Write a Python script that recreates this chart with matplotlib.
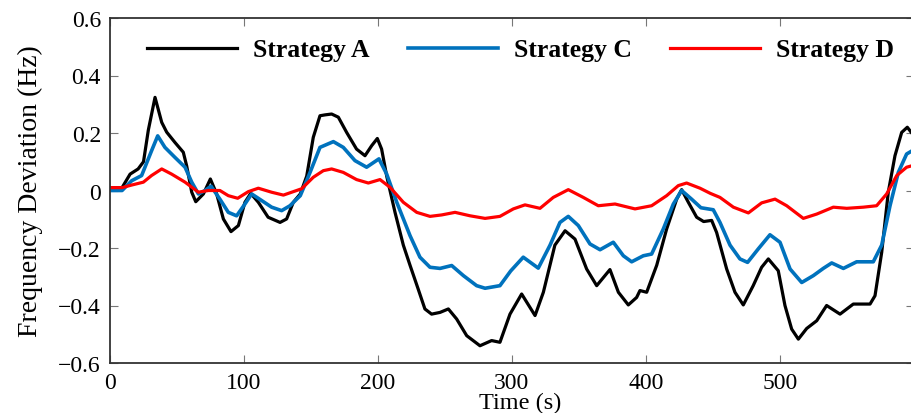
import matplotlib
matplotlib.use("Agg")
import matplotlib.pyplot as plt

plt.rcParams['font.family'] = ['Liberation Serif', 'DejaVu Serif']

# ---------------- data ----------------
A_t = [0, 9, 15, 21, 25, 28.6, 33.6, 38.6, 42.3, 48.5,
       54.7, 57.2, 61, 64, 69.7, 74.9, 79.6, 84.6, 90.3, 95.8,
       100.7, 105, 110.7, 118, 126.9, 131.8, 136.8, 142, 146.8, 151.7,
       156.7, 160.4, 165.4, 170.4, 176.6, 184, 190.3, 195.3, 199.5, 202.7,
       206.5, 212.7, 218.9, 223.9, 230, 235, 240, 246.3, 252.5, 258.7,
       266.2, 276.1, 284.8, 291, 298.5, 307.2, 317.2, 323.4, 332, 339.6,
       347, 355.7, 363.2, 373.1, 379.4, 386.8, 393, 395.5, 400.5, 408,
       415.4, 422.9, 426.6, 431.6, 437.8, 443, 449, 452.7, 460.2, 466.4,
       472.6, 480, 486.3, 491.3, 498.7, 503.7, 508.7, 513.7, 519.9, 527.4,
       534.8, 544.8, 554.7, 567.2, 570.9, 575.9, 580.8, 585.8, 590.8, 595,
       600]
A_v = [0.01, 0.01, 0.057, 0.075, 0.10, 0.21, 0.324, 0.237, 0.203, 0.167,
       0.133, 0.086, -0.006, -0.039, -0.012, 0.04, -0.012, -0.099, -0.143, -0.122,
       -0.041, -0.01, -0.041, -0.093, -0.111, -0.099, -0.041, -0.012, 0.05, 0.185,
       0.26, 0.263, 0.266, 0.255, 0.202, 0.144, 0.121, 0.156, 0.181, 0.144,
       0.05, -0.076, -0.19, -0.26, -0.343, -0.412, -0.43, -0.424, -0.412, -0.447,
       -0.505, -0.54, -0.522, -0.528, -0.43, -0.36, -0.435, -0.354, -0.19, -0.14,
       -0.169, -0.273, -0.331, -0.275, -0.354, -0.398, -0.372, -0.348, -0.354, -0.26,
       -0.134, -0.03, 0.003, -0.041, -0.093, -0.108, -0.104, -0.146, -0.273, -0.354,
       -0.398, -0.331, -0.267, -0.238, -0.279, -0.4, -0.482, -0.517, -0.48, -0.453,
       -0.4, -0.43, -0.395, -0.395, -0.366, -0.215, -0.006, 0.121, 0.202, 0.22,
       0.19]

C_t = [0, 9, 16.2, 23.6, 31, 35.6, 41, 48.5, 56, 61,
       66, 70.9, 75.4, 82, 88.3, 94.5, 100.7, 105.7, 113.2, 120.6,
       128.1, 134.3, 142, 149.3, 156.7, 166.7, 174.1, 182.8, 191.5, 200.7,
       206.5, 214, 223.9, 231.3, 238.8, 246.3, 255, 263.7, 273.6, 279.9,
       291, 299, 308.4, 319.6, 328.4, 335.8, 342, 349.5, 358.2, 365.7,
       375.6, 383.1, 389.3, 398, 404.2, 412.9, 420.4, 426.6, 434, 441,
       450.2, 455.2, 462.7, 470.1, 475.8, 483.8, 492.5, 500, 507.5, 516.2,
       524.9, 532.3, 538.6, 547.3, 557.2, 569.6, 575.9, 582.1, 588.3, 594.5,
       600]
C_v = [0.0, 0.0, 0.034, 0.052, 0.138, 0.19, 0.15, 0.115, 0.081, 0.029,
       -0.012, 0.0, 0.015, -0.03, -0.076, -0.088, -0.047, -0.012, -0.035, -0.058,
       -0.07, -0.053, -0.018, 0.063, 0.15, 0.17, 0.15, 0.104, 0.081, 0.11,
       0.057, -0.041, -0.157, -0.232, -0.267, -0.271, -0.261, -0.296, -0.331, -0.34,
       -0.331, -0.28, -0.232, -0.27, -0.19, -0.111, -0.09, -0.122, -0.186, -0.206,
       -0.18, -0.227, -0.248, -0.227, -0.221, -0.134, -0.047, 0.0, -0.03, -0.06,
       -0.067, -0.111, -0.19, -0.238, -0.25, -0.203, -0.154, -0.18, -0.273, -0.32,
       -0.296, -0.271, -0.252, -0.271, -0.248, -0.248, -0.19, -0.053, 0.063, 0.127,
       0.142]

D_t = [0, 9, 16.2, 24.9, 31, 38.6, 46, 56, 66, 73.4,
       82, 88.3, 95.3, 103.2, 110.7, 120.6, 129.4, 136.8, 143, 151.7,
       159.2, 165.4, 174.1, 184, 192.8, 201.5, 209, 218.9, 228.9, 238.8,
       247.5, 257.5, 268.7, 279.9, 291, 301, 309.7, 320.9, 330.8, 342,
       353.2, 364.4, 376.9, 391.8, 404.2, 415.4, 424.1, 430.3, 440.3, 448,
       455.2, 465.2, 476.4, 486.3, 496.3, 505, 517.4, 527.4, 539.8, 549.8,
       562.2, 572.1, 579.6, 587.1, 594.5, 600]
D_v = [0.01, 0.01, 0.019, 0.029, 0.052, 0.075, 0.057, 0.029, -0.006, 0.0,
       0.0, -0.018, -0.027, -0.004, 0.008, -0.006, -0.016, -0.004, 0.006, 0.046,
       0.069, 0.075, 0.063, 0.038, 0.026, 0.038, 0.011, -0.041, -0.076, -0.09,
       -0.085, -0.076, -0.088, -0.097, -0.09, -0.064, -0.05, -0.062, -0.024, 0.003,
       -0.024, -0.053, -0.047, -0.064, -0.053, -0.018, 0.017, 0.026, 0.008, -0.01,
       -0.024, -0.058, -0.078, -0.043, -0.03, -0.053, -0.097, -0.082, -0.058, -0.062,
       -0.058, -0.053, -0.012, 0.052, 0.081, 0.088]

labels = ["Strategy A", "Strategy C", "Strategy D"]
x_ticks = [0, 100, 200, 300, 400, 500]
y_ticks = [-0.6, -0.4, -0.2, 0, 0.2, 0.4, 0.6]
y_ticklabels = ["\u22120.6", "\u22120.4", "\u22120.2", "0", "0.2", "0.4", "0.6"]

# ---------------- figure ----------------
W, H = 912, 414
fig = plt.figure(figsize=(W / 100, H / 100), dpi=100)
ax_l, ax_r, ax_t, ax_b = 110, 914, 19, 364
aw, ah = ax_r - ax_l, ax_b - ax_t
ax = fig.add_axes([ax_l / W, 1 - ax_b / H, aw / W, ah / H])

lw = 2.3
ax.plot(A_t, A_v, color="black", lw=lw, solid_joinstyle="round", label=labels[0])
ax.plot(C_t, C_v, color="#0072BD", lw=lw + 0.3, solid_joinstyle="round", label=labels[1])
ax.plot(D_t, D_v, color="#FF0000", lw=lw, solid_joinstyle="round", label=labels[2])

ax.set_xlim(0, 600)
ax.set_ylim(-0.6, 0.6)
ax.set_xticks(x_ticks)
ax.set_xticklabels([str(v) for v in x_ticks])
ax.set_yticks(y_ticks)
ax.set_yticklabels(y_ticklabels)

ax.tick_params(direction="in", length=6, width=0.8, color="#777777",
               labelsize=17, top=True, right=True, pad=6.5)
for s in ax.spines.values():
    s.set_color("#333333")
    s.set_linewidth(1.3)

ax.set_xlabel("Time (s)", fontsize=17.5)
ax.xaxis.set_label_coords((520 - ax_l) / aw, (ax_b - 393) / ah)
ax.set_ylabel("Frequency Deviation (Hz)", fontsize=20)
ax.yaxis.set_label_coords((43 - ax_l) / aw, (ax_b - 191) / ah)

fs = 18.5
em = fs * 100 / 72
leg = ax.legend(loc="center left", bbox_to_anchor=((147 - ax_l) / aw, (ax_b - 51) / ah),
                ncol=3, frameon=False, borderpad=0, borderaxespad=0,
                handlelength=90 / em, handletextpad=16 / em,
                columnspacing=38 / em, prop={"weight": "bold", "size": fs})

fig.savefig("out.png", dpi=100)
